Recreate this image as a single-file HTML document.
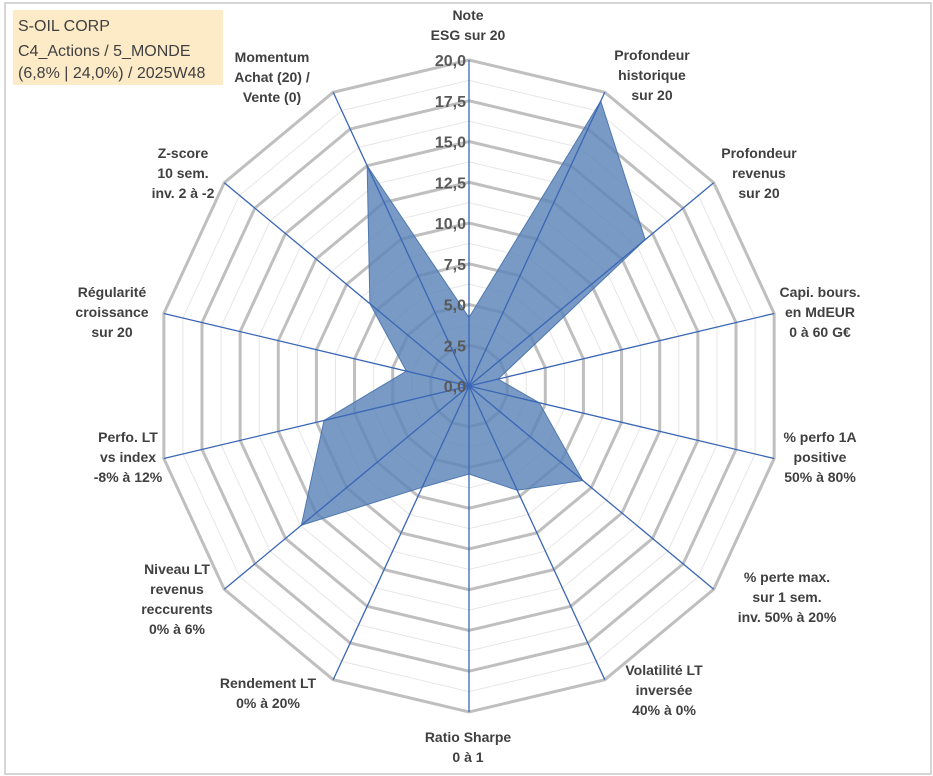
<!DOCTYPE html>
<html><head><meta charset="utf-8">
<style>
body{margin:0;background:#fff;}
svg{display:block;font-family:"Liberation Sans",Arial,sans-serif;}
.lbl{font-weight:bold;font-size:14px;fill:#404040;}
.tick{font-weight:bold;font-size:16px;fill:#595959;}
</style></head><body>
<svg id="chart" width="933" height="776" viewBox="0 0 933 776">
<rect x="5" y="3" width="926" height="771" fill="#fff" stroke="#c8c8c8" stroke-width="1.5"/>
<g id="grid"></g>
<g id="series"></g>
<g id="axes"></g>
<g id="ticks"></g>
<g id="labels"></g>
<g>
<rect x="13" y="10" width="210" height="75" fill="#fdebc8"/>
<text x="18" y="31" font-family="Liberation Sans, sans-serif" font-size="16" fill="#404040">S-OIL CORP</text>
<text x="18" y="56" font-family="Liberation Sans, sans-serif" font-size="16" fill="#404040">C4_Actions / 5_MONDE</text>
<text x="18" y="78" font-family="Liberation Sans, sans-serif" font-size="16" fill="#404040">(6,8% | 24,0%) / 2025W48</text>
</g>
</svg>
<script>
const categories=[["Note","ESG sur 20"],["Profondeur","historique","sur 20"],["Profondeur","revenus","sur 20"],["Capi. bours.","en MdEUR","0 à 60 G€"],["% perfo 1A","positive","50% à 80%"],["% perte max.","sur 1 sem.","inv. 50% à 20%"],["Volatilité LT","inversée","40% à 0%"],["Ratio Sharpe","0 à 1"],["Rendement LT","0% à 20%"],["Niveau LT","revenus","reccurents","0% à 6%"],["Perfo. LT","vs index","-8% à 12%"],["Régularité","croissance","sur 20"],["Z-score","10 sem.","inv. 2 à -2"],["Momentum","Achat (20) /","Vente (0)"]];
const values=[4.2,19.4,14.4,1.9,4.6,9.3,7.1,5.4,6.9,13.7,9.5,4.1,8.1,15.0];
const tickLabels=["0,0","2,5","5,0","7,5","10,0","12,5","15,0","17,5","20,0"];
const labelPos=[[468,20],[652,60],[759,158],[820,297],[820,442],[787,582],[664,675],[468,742],[268,688],[177,574],[128,442],[112,297],[183,158],[272,62]];
const cx=469,cy=386,Rx=313,Ry=326,maxV=20,N=categories.length;
const NS="http://www.w3.org/2000/svg";
function ang(i){return -Math.PI/2+i*2*Math.PI/N;}
function pt(i,v){const f=v/maxV;return [cx+f*Rx*Math.cos(ang(i)),cy+f*Ry*Math.sin(ang(i))];}
function mk(tag,attrs,parent){const e=document.createElementNS(NS,tag);for(const k in attrs)e.setAttribute(k,attrs[k]);parent.appendChild(e);return e;}
const grid=document.getElementById('grid');
for(let k=1;k<=16;k++){const v=k*1.25;const pts=[];for(let i=0;i<N;i++)pts.push(pt(i,v).join(','));
const major=k%2===0;
const p=mk('polygon',{points:pts.join(' '),fill:'none',stroke:major?'#bfbfbf':'#e6e6e6','stroke-width':major?3:1},grid);

}
const ser=document.getElementById('series');
const sp=mk('polygon',{points:values.map((v,i)=>pt(i,v).join(',')).join(' '),fill:'#5b84b8','fill-opacity':0.82,stroke:'#4f79b0','stroke-width':1},ser);


const ax=document.getElementById('axes');
for(let i=0;i<N;i++){const [x,y]=pt(i,maxV);const l=mk('line',{x1:cx,y1:cy,x2:x,y2:y,stroke:'#3a66b5','stroke-width':1.3},ax);

}
const tk=document.getElementById('ticks');
tickLabels.forEach((t,k)=>{const e=mk('text',{x:cx-3,y:cy-k*Ry/8+6,'text-anchor':'end',class:'tick'},tk);e.textContent=t;

});
const lb=document.getElementById('labels');
categories.forEach((c,i)=>{const [x,y]=labelPos[i];const t=mk('text',{x:x,y:y,'text-anchor':'middle',class:'lbl'},lb);


c.forEach((line,j)=>{const s=mk('tspan',{x:x,dy:j===0?0:20},t);s.textContent=line;});});
</script>
</body></html>
